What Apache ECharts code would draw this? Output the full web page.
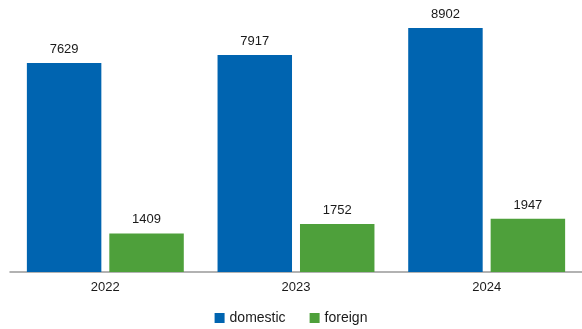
<!DOCTYPE html>
<html>
<head>
<meta charset="utf-8">
<script src="https://cdn.jsdelivr.net/npm/echarts@6/dist/echarts.min.js"></script>
<style>
  html, body { margin: 0; padding: 0; background: #fff; }
  #chart { width: 582px; height: 329px; }
</style>
</head>
<body>
<div id="chart"></div>
<script>
const years = ['2022', '2023', '2024']
const domestic = [7629, 7917, 8902]
const foreign = [1409, 1752, 1947]

const chart = echarts.init(document.getElementById('chart'))
const labelStyle = {
  show: true,
  position: 'top',
  distance: 7,
  color: '#1a1a1a',
  fontSize: 13,
  fontFamily: 'Liberation Sans, Arial, sans-serif'
}
chart.setOption({
  animation: false,
  grid: { left: 10, right: 0, top: 28, bottom: 57 },
  legend: {
    bottom: -1,
    left: 'center',
    itemWidth: 10,
    itemHeight: 10,
    itemGap: 24,
    icon: 'rect',
    textStyle: { fontSize: 14, color: '#1a1a1a', fontFamily: 'Liberation Sans, Arial, sans-serif' },
    data: ['domestic', 'foreign']
  },
  xAxis: {
    type: 'category',
    data: years,
    axisLine: { lineStyle: { color: '#999', width: 1.5 } },
    axisTick: { show: false },
    axisLabel: { color: '#1a1a1a', fontSize: 13, margin: 9, fontFamily: 'Liberation Sans, Arial, sans-serif' }
  },
  yAxis: {
    type: 'value',
    min: 0,
    max: 'dataMax',
    show: false,
    splitLine: { show: false }
  },
  series: [
    {
      name: 'domestic',
      type: 'bar',
      data: domestic,
      barGap: '10.7%',
      barCategoryGap: '17.7%',
      itemStyle: { color: '#0064b0' },
      label: labelStyle
    },
    {
      name: 'foreign',
      type: 'bar',
      data: foreign,
      itemStyle: { color: '#4ea03b' },
      label: labelStyle
    }
  ]
})
</script>
</body>
</html>
